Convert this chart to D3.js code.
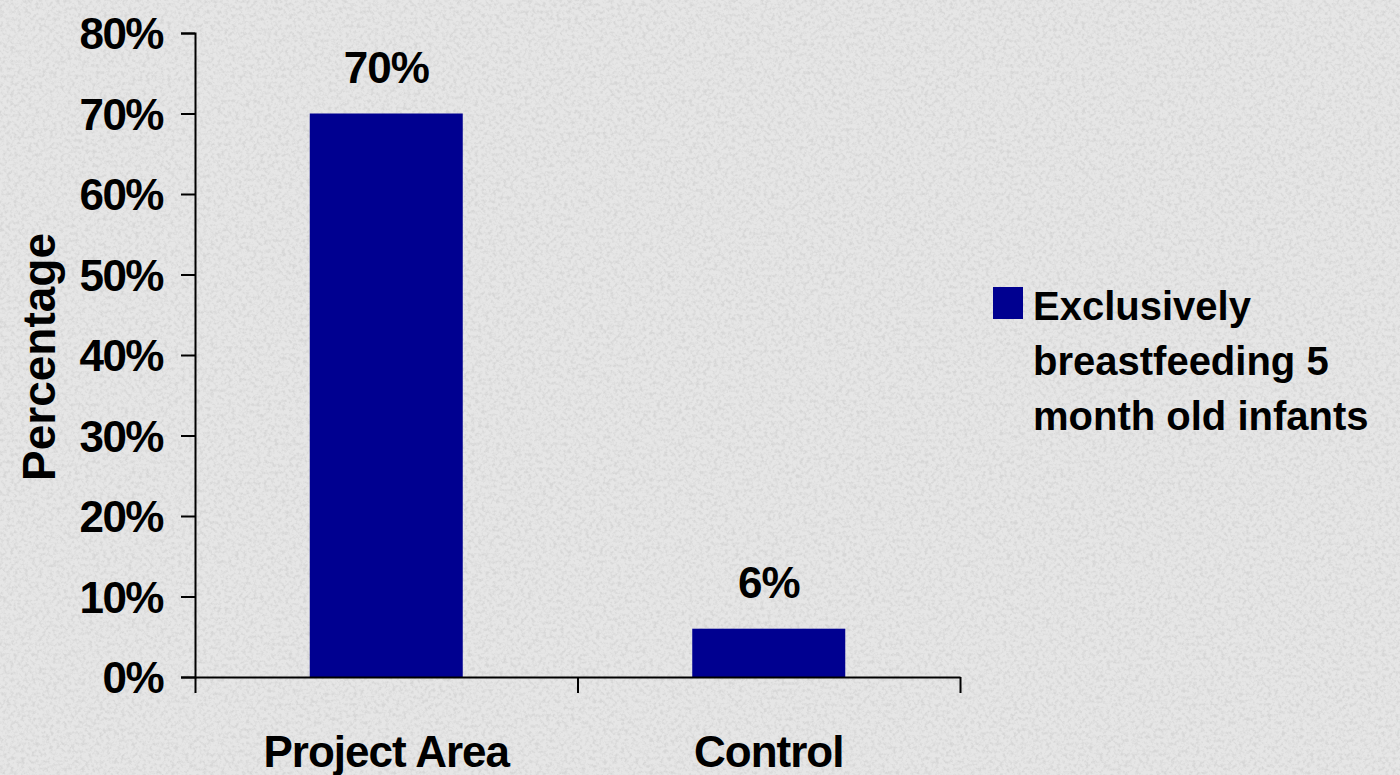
<!DOCTYPE html>
<html>
<head>
<meta charset="utf-8">
<script src="https://cdn.jsdelivr.net/npm/d3@7"></script>
<style>
  html, body { margin: 0; padding: 0; background: #e4e4e4; }
  svg { display: block; }
  text { font-family: "Liberation Sans", Arial, sans-serif; font-weight: bold; fill: #000; }
</style>
</head>
<body>
<svg id="chart" width="1400" height="775"></svg>
<script>
// ---- data ----
const categories = ["Project Area", "Control"];
const values = [0.70, 0.06];
const valueLabels = ["70%", "6%"];
const yTicks = [0, 0.1, 0.2, 0.3, 0.4, 0.5, 0.6, 0.7, 0.8];
const seriesName = ["Exclusively", "breastfeeding 5", "month old infants"];
const yTitle = "Percentage";

const W = 1400, H = 775;
const svg = d3.select("#chart");

// background texture
const defs = svg.append("defs");
const f = defs.append("filter").attr("id", "grain").attr("x", 0).attr("y", 0).attr("width", "100%").attr("height", "100%")
  .attr("filterUnits", "userSpaceOnUse");
f.append("feTurbulence").attr("type", "fractalNoise").attr("baseFrequency", 0.28).attr("numOctaves", 3).attr("seed", 7).attr("result", "n");
f.append("feColorMatrix").attr("type", "matrix")
  .attr("values", "0 0 0 0 0.62  0 0 0 0 0.62  0 0 0 0 0.62  3 0 0 0 -1.3");
svg.append("rect").attr("width", W).attr("height", H).attr("fill", "#e6e6e6");
svg.append("rect").attr("width", W).attr("height", H).attr("fill", "#fff").attr("filter", "url(#grain)").attr("opacity", 0.65);

const x0 = 195, x1 = 960, yTop = 33, yBot = 677;
const y = d3.scaleLinear().domain([0, 0.8]).range([yBot, yTop]);
const x = d3.scaleBand().domain(categories).range([x0, x1]).paddingInner(0.6).paddingOuter(0.3);
const xEdge = d3.scaleLinear().domain([0, categories.length]).range([x0, x1]);

// bars
svg.append("g").selectAll("rect").data(values).join("rect")
  .attr("x", (d, i) => x(categories[i]))
  .attr("y", d => y(d))
  .attr("width", x.bandwidth())
  .attr("height", d => y(0) - y(d))
  .attr("fill", "#000090");

// value labels
svg.append("g").selectAll("text").data(values).join("text")
  .attr("x", (d, i) => x(categories[i]) + x.bandwidth() / 2)
  .attr("y", d => y(d) - 31)
  .attr("text-anchor", "middle")
  .style("font-size", "44px")
  .style("letter-spacing", "-1px")
  .text((d, i) => valueLabels[i]);

// y axis
const yAxis = svg.append("g").attr("transform", `translate(${x0},0)`)
  .call(d3.axisLeft(y).tickValues(yTicks).tickSize(14).tickPadding(18).tickFormat(d3.format(".0%")));
yAxis.select(".domain").attr("stroke", "#000").attr("stroke-width", 2);
yAxis.selectAll(".tick line").attr("stroke", "#000").attr("stroke-width", 2);
yAxis.selectAll(".tick text").style("font-size", "44px").attr("font-family", null).style("letter-spacing", "-1.5px").attr("dy", "0.36em");

// x axis (category boundaries)
const xAxis = svg.append("g").attr("transform", `translate(0,${yBot})`)
  .call(d3.axisBottom(xEdge).tickValues(d3.range(categories.length + 1)).tickSize(16).tickSizeOuter(0).tickFormat(""));
xAxis.select(".domain").attr("stroke", "#000").attr("stroke-width", 2);
xAxis.selectAll(".tick line").attr("stroke", "#000").attr("stroke-width", 2);

// category labels
svg.append("g").selectAll("text").data(categories).join("text")
  .attr("x", d => x(d) + x.bandwidth() / 2)
  .attr("y", 767)
  .attr("text-anchor", "middle")
  .style("font-size", "44px")
  .style("letter-spacing", "-1px")
  .text(d => d);

// y title
svg.append("text")
  .attr("transform", `translate(55,${(yTop + yBot) / 2 + 2}) rotate(-90)`)
  .attr("text-anchor", "middle")
  .style("font-size", "46px")
  .text(yTitle);

// legend
const lg = svg.append("g");
lg.append("rect").attr("x", 993).attr("y", 287).attr("width", 30).attr("height", 32).attr("fill", "#000090");
lg.selectAll("text").data(seriesName).join("text")
  .attr("x", 1033)
  .attr("y", (d, i) => 320 + i * 55)
  .style("font-size", "40px")
  .text(d => d);
</script>
</body>
</html>
